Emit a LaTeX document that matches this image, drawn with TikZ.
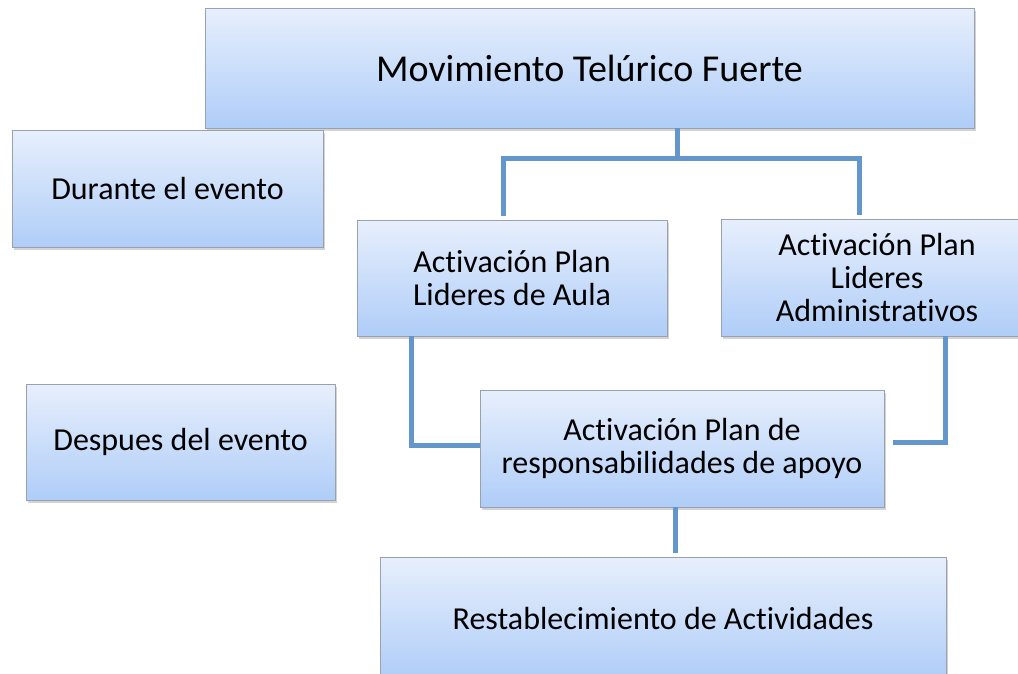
\documentclass[tikz,border=0pt]{standalone}
\usepackage{fontspec}
\setmainfont[Ligatures=NoCommon]{Carlito}
\usetikzlibrary{positioning, shadows}

\definecolor{boxtop}{HTML}{E7EFFC}
\definecolor{boxbot}{HTML}{AFCDF8}
\definecolor{boxline}{HTML}{98A1AC}
\definecolor{linkblue}{HTML}{6397CB}

\begin{document}
\begin{tikzpicture}[
		x=1pt, y=-1pt,
		box/.style={rectangle, draw=boxline, line width=0.9pt, top color=boxtop, bottom color=boxbot,
			align=center, font=\fontsize{32}{33}\selectfont, inner sep=0pt,
			drop shadow={opacity=0.35, shadow xshift=1.5pt, shadow yshift=-2.5pt}},
		title/.style={box, font=\fontsize{38}{42}\selectfont},
		conn/.style={draw=linkblue, line width=5pt}
		]
		
		\useasboundingbox (0,0) rectangle (1018,673);
		
		% Main boxes
		\node[title, minimum width=769pt, minimum height=120pt] (mov) at (589.5,68) {Movimiento Telúrico Fuerte};
		\node[box, minimum width=311pt, minimum height=117pt] (durante) at (167.5,189) {Durante el evento};
		\node[box, minimum width=309pt, minimum height=116pt] (despues) at (180.5,442) {Despues del evento};
		
		% Plans
		\node[box, minimum width=310pt, minimum height=116pt] (aula) at (512,278) {Activación Plan\\Lideres de Aula};
		\node[box, minimum width=312pt, minimum height=117pt] (admin) at (877,277.5) {Activación Plan\\Lideres\\Administrativos};
		\node[box, minimum width=404pt, minimum height=117pt] (apoyo) at (682,448.5) {Activación Plan de\\responsabilidades de apoyo};
		\node[box, minimum width=566pt, minimum height=122pt] (restab) at (663,618) {Restablecimiento de Actividades};
		
		% Connectors
		\draw[conn] ([xshift=87.5pt]mov.south) -- +(0,30) coordinate (jt);
		\draw[conn] ([xshift=-9pt,yshift=4pt]aula.north) |- (jt) -| ([xshift=-18pt,yshift=4pt]admin.north);
		
		\draw[conn] ([xshift=-101pt]aula.south) |- ([yshift=3pt]apoyo.west);
		\draw[conn] ([xshift=68pt]admin.south) |- ([xshift=9pt,yshift=6pt]apoyo.east);
		
		\draw[conn] ([xshift=-7pt]apoyo.south) -- +(0,46);
		
	\end{tikzpicture}
\end{document}
